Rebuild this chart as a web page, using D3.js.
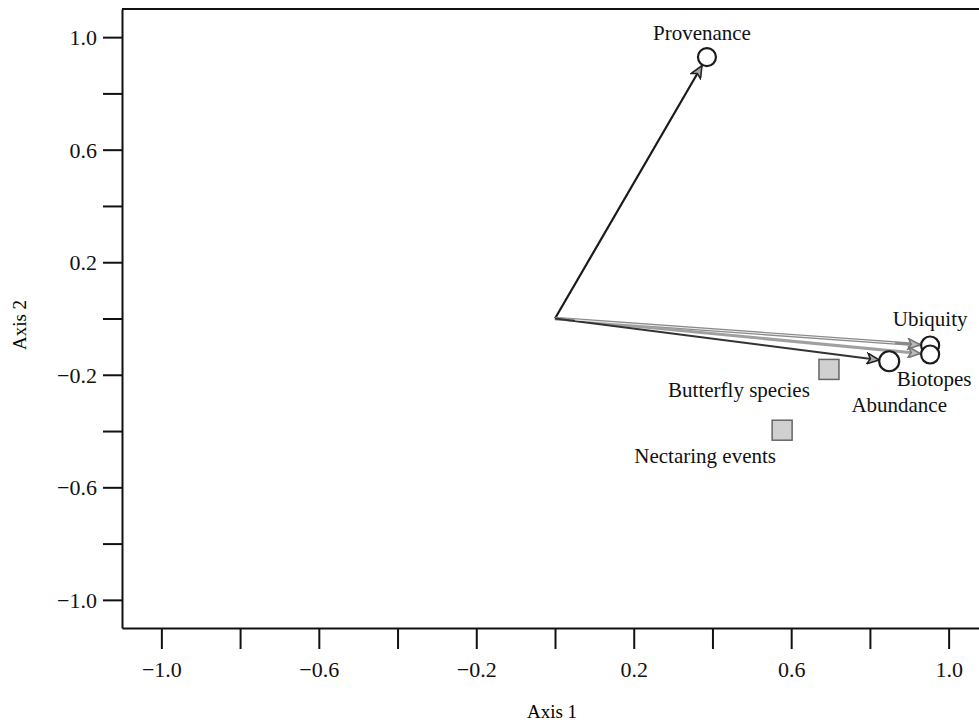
<!DOCTYPE html>
<html>
<head>
<meta charset="utf-8">
<script src="https://cdn.jsdelivr.net/npm/d3@7"></script>
<style>
  body { margin: 0; background: #fff; }
  text { font-family: "Liberation Serif", "DejaVu Serif", serif; }
</style>
</head>
<body>
<script>
// biplot: environmental variables (arrows) and response points (squares)
const varNames = ["Provenance", "Ubiquity", "Biotopes", "Abundance"]
const varX = [0.386, 0.953, 0.953, 0.849]
const varY = [0.929, -0.096, -0.128, -0.152]

const ptNames = ["Butterfly species", "Nectaring events"]
const ptX = [0.696, 0.577]
const ptY = [-0.181, -0.397]

const xTicks = [-1.0, -0.8, -0.6, -0.4, -0.2, 0.0, 0.2, 0.4, 0.6, 0.8, 1.0]
const yTicks = [-1.0, -0.8, -0.6, -0.4, -0.2, 0.0, 0.2, 0.4, 0.6, 0.8, 1.0]
const labelledTicks = [-1.0, -0.6, -0.2, 0.2, 0.6, 1.0]

let w = 979
let h = 723
const margin = {left: 122, top: 9, right: -9, bottom: 95}

let svg = d3.select("body")
    .append("svg")
    .attr("width", w)
    .attr("height", h)

let x = d3.scaleLinear().domain([-1.1, 1.1]).range([margin.left, w - margin.right])
let y = d3.scaleLinear().domain([-1.1, 1.1]).range([h - margin.bottom, margin.top])

const fmt = (d)=>{
    let hit = labelledTicks.some(t => Math.abs(t - d) < 1e-9)
    return hit ? d3.format(".1f")(d) : ""
}

// axes
let xAxis = svg.append("g")
    .attr("transform", "translate(0," + (h - margin.bottom) + ")")
    .call(d3.axisBottom(x).tickValues(xTicks).tickFormat(fmt).tickSize(21).tickSizeOuter(0).tickPadding(12))
let yAxis = svg.append("g")
    .attr("transform", "translate(" + margin.left + ",0)")
    .call(d3.axisLeft(y).tickValues(yTicks).tickFormat(fmt).tickSize(19).tickSizeOuter(0).tickPadding(6))

;[xAxis, yAxis].forEach((a)=>{
    a.selectAll("path, line").attr("stroke", "#111").attr("stroke-width", 2)
    a.selectAll("text").attr("fill", "#111").style("font-size", "22px")
        .style("font-family", "'Liberation Serif', serif")
})
yAxis.selectAll("text").attr("dy", "0.34em")

// top frame line
svg.append("line")
    .attr("x1", x(-1.1)).attr("x2", w)
    .attr("y1", y(1.1)).attr("y2", y(1.1))
    .attr("stroke", "#111").attr("stroke-width", 2)

svg.append("text")
    .attr("x", 552).attr("y", 718)
    .attr("text-anchor", "middle")
    .style("font-size", "19px")
    .text("Axis 1")
svg.append("text")
    .attr("transform", "translate(26,325) rotate(-90)")
    .attr("text-anchor", "middle")
    .style("font-size", "19px")
    .text("Axis 2")

// arrow markers
let defs = svg.append("defs")
const heads = [["headDark", "#aaa", "#222"], ["headGray", "#bbb", "#777"]]
heads.forEach((hd)=>{
    defs.append("marker")
        .attr("id", hd[0])
        .attr("viewBox", "0 -5 10 10")
        .attr("refX", 10).attr("refY", 0)
        .attr("markerWidth", 18).attr("markerHeight", 12)
        .attr("markerUnits", "userSpaceOnUse")
        .attr("orient", "auto")
        .append("path")
        .attr("d", "M0,-4.5L10,0L0,4.5L2.5,0Z")
        .attr("fill", hd[1]).attr("stroke", hd[2]).attr("stroke-width", 1.3)
})

const arrowStyle = {
    "Provenance": {color: "#1a1a1a", width: 2.2, head: "headDark"},
    "Ubiquity": {color: "#8a8a8a", width: 3.5, head: "headGray"},
    "Biotopes": {color: "#a0a0a0", width: 3, head: "headGray"},
    "Abundance": {color: "#333", width: 2.2, head: "headDark"}
}

let vars = varNames.map((n, i)=>({name: n, x: varX[i], y: varY[i]}))
const r = 9

svg.append("g").selectAll("line")
    .data(vars)
    .enter().append("line")
    .each(function(d){
        let x0 = x(0), y0 = y(0), x1 = x(d.x), y1 = y(d.y)
        let len = Math.hypot(x1 - x0, y1 - y0)
        let k = (len - r - 1) / len
        d3.select(this)
            .attr("x1", x0).attr("y1", y0)
            .attr("x2", x0 + (x1 - x0) * k).attr("y2", y0 + (y1 - y0) * k)
    })
    .attr("stroke", d => arrowStyle[d.name].color)
    .attr("stroke-width", d => arrowStyle[d.name].width)
    .attr("marker-end", d => "url(#" + arrowStyle[d.name].head + ")")

// light core on the gray arrow (double-line look)
svg.append("g").selectAll("line")
    .data(vars.filter(d => d.name === "Ubiquity"))
    .enter().append("line")
    .attr("x1", x(0) + 20).attr("y1", d => y(0) + 20 * (y(d.y) - y(0)) / (x(d.x) - x(0)))
    .attr("x2", d => x(d.x) - 35).attr("y2", d => y(0) + (x(d.x) - 35 - x(0)) * (y(d.y) - y(0)) / (x(d.x) - x(0)))
    .attr("stroke", "#eee").attr("stroke-width", 1)

svg.append("g").selectAll("circle")
    .data(vars)
    .enter().append("circle")
    .attr("cx", d => x(d.x))
    .attr("cy", d => y(d.y))
    .attr("r", d => d.name === "Abundance" ? r + 1 : r)
    .attr("fill", "#fff")
    .attr("stroke", "#1a1a1a")
    .attr("stroke-width", 2.2)

// point squares
let pts = ptNames.map((n, i)=>({name: n, x: ptX[i], y: ptY[i]}))
svg.append("g").selectAll("rect")
    .data(pts)
    .enter().append("rect")
    .attr("x", d => x(d.x) - 10)
    .attr("y", d => y(d.y) - 10)
    .attr("width", 20).attr("height", 20)
    .attr("fill", "#d0d0d0")
    .attr("stroke", "#666")
    .attr("stroke-width", 1.5)

// labels
const labelOffset = {
    "Provenance": [-5, -17],
    "Ubiquity": [0, -20],
    "Biotopes": [4, 31],
    "Abundance": [10, 51],
    "Butterfly species": [-90, 28],
    "Nectaring events": [-77, 33]
}
let labels = vars.concat(pts)
svg.append("g").selectAll("text")
    .data(labels)
    .enter().append("text")
    .attr("x", d => x(d.x) + labelOffset[d.name][0])
    .attr("y", d => y(d.y) + labelOffset[d.name][1])
    .attr("text-anchor", "middle")
    .style("font-size", "21px")
    .attr("fill", "#111")
    .text(d => d.name)
</script>
</body>
</html>
